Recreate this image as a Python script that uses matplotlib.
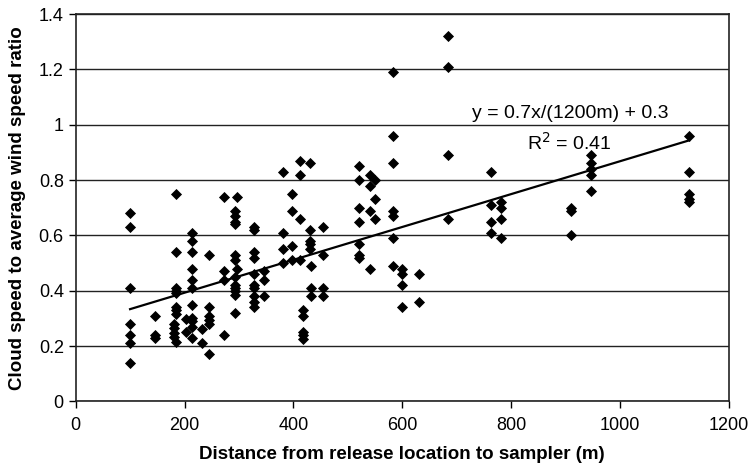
import numpy as np
import matplotlib
matplotlib.use('Agg')
import matplotlib.pyplot as plt

plt.rcParams['font.family'] = ['Liberation Sans', 'DejaVu Sans']

# Sampler distance (m) and measured ratios at that distance
distances = [100, 145, 184, 180, 202, 213, 233, 245, 273, 293, 296, 328, 346,
             381, 397, 412, 418, 430, 433, 455, 521, 541, 550, 583, 600, 631,
             685, 763, 782, 910, 946, 1127]
ratios = [
    [0.68, 0.63, 0.41, 0.28, 0.24, 0.21, 0.14],
    [0.31, 0.24, 0.23],
    [0.75, 0.54, 0.41, 0.40, 0.39, 0.34, 0.33, 0.315, 0.216],
    [0.28, 0.265, 0.246, 0.234],
    [0.297, 0.25],
    [0.61, 0.58, 0.54, 0.48, 0.44, 0.41, 0.35, 0.30, 0.29, 0.27, 0.23],
    [0.26, 0.21],
    [0.53, 0.34, 0.31, 0.295, 0.28, 0.17],
    [0.74, 0.47, 0.44, 0.24],
    [0.69, 0.67, 0.65, 0.64, 0.53, 0.51, 0.45, 0.42, 0.41, 0.40, 0.385, 0.32],
    [0.74, 0.48],
    [0.63, 0.62, 0.54, 0.52, 0.46, 0.42, 0.41, 0.38, 0.36, 0.34],
    [0.47, 0.44, 0.38],
    [0.83, 0.61, 0.55, 0.50],
    [0.75, 0.69, 0.56, 0.51],
    [0.87, 0.82, 0.66, 0.51],
    [0.33, 0.31, 0.25, 0.24, 0.225],
    [0.86, 0.62, 0.58, 0.57, 0.55],
    [0.49, 0.41, 0.38],
    [0.63, 0.53, 0.41, 0.38],
    [0.85, 0.80, 0.70, 0.65, 0.57, 0.53, 0.52],
    [0.82, 0.78, 0.69, 0.48],
    [0.80, 0.73, 0.66],
    [1.19, 0.96, 0.86, 0.69, 0.67, 0.59, 0.49],
    [0.48, 0.46, 0.42, 0.34],
    [0.46, 0.36],
    [1.32, 1.21, 0.89, 0.66],
    [0.83, 0.71, 0.65, 0.61],
    [0.72, 0.70, 0.66, 0.59],
    [0.70, 0.69, 0.60],
    [0.89, 0.86, 0.84, 0.82, 0.76],
    [0.96, 0.83, 0.75, 0.73, 0.72],
]

# trend line as drawn in the figure
trend_slope = 0.000594
trend_intercept = 0.274
fit_label = 'y = 0.7x/(1200m) + 0.3'
r2_label = 'R$^2$ = 0.41'

x = np.concatenate([[d] * len(r) for d, r in zip(distances, ratios)])
y = np.concatenate(ratios)

fig = plt.figure(figsize=(7.49, 4.70), dpi=100)
ax = fig.add_axes([0.101, 0.146, 0.872, 0.824])

ax.set_axisbelow(True)
ax.yaxis.grid(True, color='#222222', linewidth=1.0)
ax.scatter(x, y, marker='D', s=32, color='black', linewidths=0, zorder=3)

xl = np.array([x.min(), x.max()])
ax.plot(xl, trend_slope * xl + trend_intercept, color='black', linewidth=1.6, zorder=4)

ax.text(908, 1.025, fit_label, fontsize=14, ha='center', va='baseline')
ax.text(908, 0.908, r2_label, fontsize=14, ha='center', va='baseline')

ax.set_xlim(0, 1200)
ax.set_ylim(0, 1.4)
ax.set_xticks(np.arange(0, 1201, 200))
ax.set_yticks(np.arange(0, 1.41, 0.2))
ax.set_yticklabels(['0', '0.2', '0.4', '0.6', '0.8', '1', '1.2', '1.4'])
ax.tick_params(direction='out', length=5, width=1, labelsize=13, colors='black')
ax.tick_params(axis='x', pad=6)
for s in ax.spines.values():
    s.set_color('#222222')
    s.set_linewidth(1.2)

ax.set_xlabel('Distance from release location to sampler (m)', fontsize=13.5,
              fontweight='bold', labelpad=9)
ax.set_ylabel('Cloud speed to average wind speed ratio', fontsize=13.5,
              fontweight='bold', labelpad=9)

fig.savefig('out.png', dpi=100)
